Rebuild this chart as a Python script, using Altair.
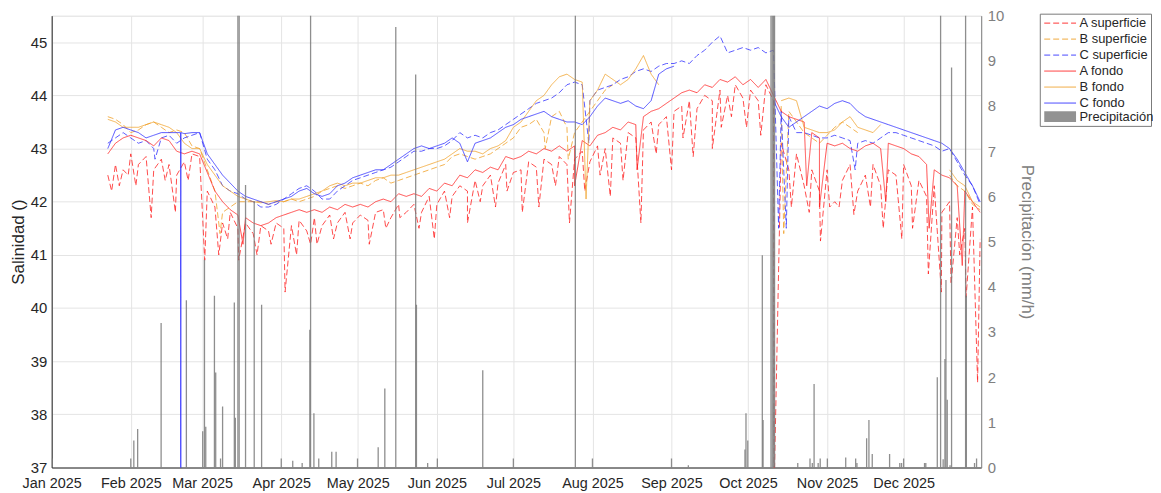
import altair as alt
import pandas as pd

# sampling days (day 0 = 1 Jan 2025)
DAYS = [22, 25, 28, 31, 34, 37, 40, 43, 46, 49, 52, 55, 58, 61, 64, 67, 70, 73, 76, 79,
        82, 85, 88, 91, 94, 97, 100, 103, 106, 109, 112, 115, 118, 121, 124, 127, 130, 133, 136, 139,
        142, 145, 148, 151, 154, 157, 160, 163, 166, 169, 172, 175, 178, 181, 184, 187, 190, 193, 196, 199,
        202, 205, 208, 211, 214, 217, 220, 223, 226, 229, 232, 235, 238, 241, 244, 247, 250, 253, 256, 259,
        262, 265, 268, 271, 274, 277, 280, 283, 286, 289, 292, 295, 298, 301, 304, 307, 310, 313, 316, 319,
        322, 325, 328, 331, 334, 337, 340, 343, 346, 349, 352, 355, 358, 361, 364]

A_SUP = [42.5, 42.7, 42.6, 42.9, 42.7, 42.85, 42.6, 42.8, 42.7, 42.5, 42.75, 42.9, 42.85, 42.2, 41.9, 41.6, 41.8, 41.5, 41.6, 41.4,
         41.55, 41.45, 41.6, 41.5, 41.55, 41.65, 41.45, 41.7, 41.55, 41.75, 41.6, 41.8, 41.6, 41.75, 41.65, 41.8, 41.85, 41.7, 41.95, 41.8,
         41.95, 41.8, 42.1, 41.95, 42.2, 42.1, 42.3, 42.2, 42.4, 42.3, 42.5, 42.35, 42.7, 42.55, 42.6, 42.75, 42.65, 42.8, 42.7, 42.85,
         42.7, 42.8, 42.95, 42.75, 43.05, 43.0, 43.2, 43.1, 43.3, 43.2, 43.35, 43.5, 43.45, 43.6, 43.7, 43.8, 43.9, 43.75, 44.0, 43.9,
         44.1, 44.0, 44.2, 43.95, 44.1, 43.9, 44.2, 43.9, 43.1, 42.6, 42.9, 42.3, 42.6, 42.2, 42.6, 42.0, 42.4, 42.7, 42.2, 42.5,
         42.7, 42.3, 42.6, 42.5, 42.7, 42.3, 42.4, 42.1, 42.3, 41.8, 42.0, 41.7, 41.5, 41.9, 41.3]
A_SUP_DIP_DAYS = [23.5, 26.5, 30, 33, 39, 44.5, 48.5, 53.5, 60, 65.5, 69, 73.3, 80.5, 86, 91.5, 96, 101.5, 104, 110.5, 117,
                  124.5, 131, 136.5, 144, 150, 156, 163, 168, 174, 178.5, 184.5, 191, 197.5, 203, 209, 215, 219, 224, 231,
                  237, 243, 247.5, 251.5, 259, 262.5, 266.5, 272.4, 278, 283.2, 290, 297, 301.4, 305, 308.7, 314.5, 321,
                  326, 333.3, 337.5, 343.7, 348.8, 352.6, 356, 358.5, 363]
A_SUP_DIP_VALS = [42.2, 42.3, 42.5, 42.3, 41.7, 42.4, 41.8, 42.4, 40.9, 41.0, 41.3, 40.9, 41.0, 41.2, 40.3, 41.0, 41.2, 41.2, 41.3, 41.3,
                  41.2, 41.5, 41.7, 41.5, 41.3, 41.7, 41.6, 42.0, 41.9, 42.2, 41.8, 41.9, 42.3, 41.6, 42.2, 42.5, 42.1, 42.4, 41.6,
                  42.9, 42.6, 43.2, 42.85, 43.0, 43.4, 43.6, 43.4, 43.25, 36.5, 41.9, 41.8, 41.26, 41.9, 41.9, 41.76, 41.9,
                  41.5, 41.3, 41.5, 40.64, 40.3, 40.45, 41.0, 40.2, 38.6]

B_SUP = [43.6, 43.55, 43.45, 43.3, 43.35, 43.45, 43.5, 43.4, 43.3, 43.35, 43.3, 43.05, 43.0, 42.6, 42.2, 41.8, 41.9, 42.0, 42.0, 42.0,
         42.0, 41.95, 42.0, 42.0, 42.05, 42.0, 42.05, 42.1, 42.2, 42.25, 42.3, 42.25, 42.3, 42.35, 42.3, 42.4, 42.45, 42.35, 42.4, 42.45,
         42.5, 42.55, 42.6, 42.65, 42.7, 42.85, 42.9, 42.85, 42.8, 42.85, 42.9, 43.0, 43.1, 43.2, 43.4, 43.45, 43.55, 43.3, 43.6, 43.7,
         43.4, 43.3, 43.5, 43.7, 43.9, 44.1, 44.2, None, None, None, None, None, None, None, None, None, None, None, None, None,
         None, None, None, None, None, None, None, None, 43.8, 43.7, 43.5, 43.3, 43.2, 43.1, 43.25, 43.4, 43.5, 43.4, 43.3, None,
         None, None, None, None, None, None, None, None, None, None, 42.5, 42.3, 42.2, 41.95, 41.85]
B_SUP_DIP_DAYS = [66, 193.5, 202.5, 287]
B_SUP_DIP_VALS = [41.4, 43.0, 42.8, 41.4]

C_SUP = [43.1, 43.2, 43.3, 43.2, 43.1, 43.15, 43.0, 43.2, 43.25, 43.1, 43.2, 43.25, 43.3, 42.8, 42.6, 42.3, 42.2, 42.15, 42.05, 42.0,
         41.9, 41.9, 41.95, 42.05, 42.15, 42.25, 42.3, 42.2, 42.05, 42.05, 42.2, 42.3, 42.4, 42.45, 42.5, 42.55, 42.6, 42.65, 42.75, 42.85,
         42.95, 42.95, 43.0, 43.0, 43.05, 43.15, 43.3, 43.2, 43.25, 43.2, 43.3, 43.35, 43.45, 43.55, 43.65, 43.75, 43.85, 43.9, 43.95, 44.05,
         44.2, 44.25, 44.2, 43.9, 44.1, 44.15, 44.2, 44.3, 44.35, 44.45, 44.5, 44.45, 44.55, 44.6, 44.6, 44.65, 44.6, 44.75, 44.85, 45.0,
         45.12, 44.8, 44.85, 44.9, 44.85, 44.9, 44.8, 44.85, 43.7, 43.6, 43.3, 43.3, 43.25, 43.2, 43.2, 43.25, 43.2, 43.15, 43.1, 43.15,
         43.1, 43.2, 43.3, 43.3, 43.25, 43.2, 43.15, 43.1, 43.05, 42.95, 43.0, 42.75, 42.5, 42.3, 41.95]
C_SUP_DIP_DAYS = [40.5, 210.6, 285, 288, 315]
C_SUP_DIP_VALS = [42.8, 43.1, 41.5, 41.5, 42.6]

A_FONDO = [42.9, 43.1, 43.2, 43.25, 43.2, 43.15, 43.05, 43.2, 43.15, 42.95, 42.9, 42.95, 42.9, 42.55, 42.2, 42.0, 41.85, 41.75, 41.7, 41.6,
           41.55, 41.6, 41.7, 41.75, 41.8, 41.85, 41.8, 41.85, 41.8, 41.9, 41.85, 41.95, 41.9, 41.95, 41.9, 42.0, 42.05, 42.0, 42.15, 42.1,
           42.15, 42.1, 42.25, 42.2, 42.35, 42.3, 42.5, 42.45, 42.6, 42.55, 42.65, 42.6, 42.85, 42.8, 42.85, 42.95, 42.9, 43.0, 42.95, 43.05,
           42.95, 43.05, 43.15, 43.05, 43.25, 43.3, 43.4, 43.35, 43.5, 43.45, 43.6, 43.7, 43.75, 43.85, 43.95, 44.05, 44.1, 44.05, 44.2, 44.15,
           44.3, 44.25, 44.35, 44.2, 44.3, 44.15, 44.3, 44.0, 43.7, 43.6, 43.55, 43.5, 43.3, 43.2, 43.1, 43.05, 43.1, 43.0, 42.95, 43.05,
           43.1, 43.0, 43.1, 43.05, 43.0, 42.9, 42.85, 42.7, 42.6, 42.5, 42.45, 42.3, 42.2, 42.0, 41.8]
A_FONDO_DIP_DAYS = [75, 205, 229.5, 296, 301, 327, 344, 357]
A_FONDO_DIP_VALS = [41.2, 42.3, 42.6, 42.3, 41.9, 42.0, 41.5, 40.8]

B_FONDO = [43.55, 43.5, 43.4, 43.4, 43.4, 43.45, 43.5, 43.45, 43.4, 43.3, 43.1, 43.0, 43.0, 42.7, 42.5, 42.3, 42.2, 42.1, 42.05, 42.0,
           41.98, 42.0, 42.02, 42.0, 42.05, 42.05, 42.1, 42.15, 42.2, 42.3, 42.35, 42.3, 42.35, 42.35, 42.4, 42.45, 42.45, 42.5, 42.5, 42.55,
           42.6, 42.65, 42.7, 42.75, 42.8, 42.9, 43.0, 42.95, 42.95, 42.9, 43.0, 43.05, 43.15, 43.4, 43.5, 43.7, 43.9, 44.0, 44.2, 44.35,
           44.4, 44.3, 44.25, 43.9, 44.1, 44.4, 44.3, 44.2, 44.3, 44.5, 44.75, 44.4, 44.2, None, None, None, None, None, None, None,
           None, None, None, None, None, None, None, None, 43.9, 43.95, 43.9, 43.4, 43.35, 43.3, 43.3, 43.35, 43.5, 43.6, 43.4, 43.35,
           43.3, 43.45, None, None, None, None, None, None, None, None, 42.6, 42.4, 42.3, 42.0, 41.9]
B_FONDO_DIP_DAYS = [209.5]
B_FONDO_DIP_VALS = [42.05]

C_FONDO = [43.0, 43.35, 43.4, 43.35, 43.3, 43.2, 43.25, 43.3, 43.3, 43.3, 43.28, 43.3, 43.3, 42.9, 42.7, 42.5, 42.35, 42.2, 42.1, 42.05,
           42.0, 41.95, 42.0, 42.05, 42.1, 42.2, 42.25, 42.15, 42.1, 42.15, 42.3, 42.35, 42.45, 42.5, 42.55, 42.6, 42.6, 42.7, 42.8, 42.9,
           43.0, 43.05, 43.0, 43.05, 43.1, 43.2, 43.1, 42.75, 43.1, 43.15, 43.2, 43.3, 43.4, 43.45, 43.55, 43.6, 43.65, 43.7, 43.6, 43.55,
           43.5, 43.5, 43.45, 43.6, 43.8, 43.95, 43.9, 43.85, 43.9, 43.8, 43.75, 43.9, 44.4, 44.5, 44.55, None, None, None, None, None,
           None, None, None, None, None, None, None, 43.9, 43.6, 43.4, 43.5, 43.6, 43.7, 43.8, 43.75, 43.85, 43.9, 43.85, 43.7, 43.6,
           43.55, 43.5, 43.45, 43.4, 43.35, 43.3, 43.25, 43.2, 43.15, 43.1, 43.0, 42.8, 42.55, 42.3, 42.0]
C_FONDO_DIP_DAYS = [50.5, 50.6, 50.7]
C_FONDO_DIP_VALS = [43.3, 36.8, 43.3]

# precipitation events (day, mm/h)
PRECIP_DAYS = [0.2, 31.0, 32.2, 33.7, 42.9, 52.8, 59.2, 59.9, 60.4, 63.8, 64.3, 66.2, 67.0, 71.6, 72.0, 73.0, 73.5,
               76.0, 79.4, 82.3, 90.0, 94.5, 98.2, 101.2, 101.5, 102.8, 104.7, 109.8, 111.5, 119.9, 128.0, 130.6,
               134.9, 142.7, 143.0, 147.4, 151.2, 169.0, 181.0, 205.3, 212.0, 243.0, 249.6, 271.8, 272.2, 272.9,
               278.6, 278.9, 282.0, 282.5, 283.0, 283.4, 292.5, 297.3, 298.2, 298.9, 300.5, 301.3, 304.1, 311.3,
               315.2, 315.7, 319.5, 320.4, 321.7, 328.5, 332.5, 333.2, 334.0, 342.2, 342.7, 347.2, 348.5, 349.5,
               350.2, 350.6, 351.1, 352.2, 352.8, 358.3, 358.6, 361.8, 362.6]
PRECIP_VALS = [0.2, 0.2, 0.6, 0.85, 3.2, 3.7, 0.8, 4.6, 0.9, 3.8, 2.1, 0.2, 1.35, 3.65, 1.1, 10.5, 10.5,
               6.25, 5.9, 3.6, 0.2, 0.15, 0.1, 3.05, 10.5, 1.2, 0.2, 0.35, 0.35, 0.2, 0.45, 1.75,
               9.75, 8.7, 3.6, 0.1, 0.2, 2.15, 0.2, 10.5, 0.2, 0.2, 0.05, 0.4, 1.2, 0.6,
               4.7, 1.05, 10.5, 10.5, 10.5, 10.5, 0.1, 0.2, 0.1, 1.85, 0.1, 0.2, 0.2, 0.22,
               0.2, 0.1, 0.65, 1.05, 0.3, 0.3, 0.1, 0.1, 0.2, 0.1, 0.1, 2.0, 10.5, 0.18,
               2.4, 4.15, 1.5, 0.05, 8.85, 10.5, 3.8, 0.1, 0.2]

ORDER = ["A superficie", "B superficie", "C superficie", "A fondo", "B fondo", "C fondo"]
COLORS = ["#ff2020", "#f0a028", "#3535ff", "#ff2020", "#f0a028", "#2a2aff"]
DASHES = [[6, 3], [6, 3], [6, 3], [1, 0], [1, 0], [1, 0]]
PRECIP_NAME = ["Precipitación"]
PRECIP_COLOR = ["#7a7a7a"]

SERIES = [
    ("A superficie", A_SUP, A_SUP_DIP_DAYS, A_SUP_DIP_VALS),
    ("B superficie", B_SUP, B_SUP_DIP_DAYS, B_SUP_DIP_VALS),
    ("C superficie", C_SUP, C_SUP_DIP_DAYS, C_SUP_DIP_VALS),
    ("A fondo", A_FONDO, A_FONDO_DIP_DAYS, A_FONDO_DIP_VALS),
    ("B fondo", B_FONDO, B_FONDO_DIP_DAYS, B_FONDO_DIP_VALS),
    ("C fondo", C_FONDO, C_FONDO_DIP_DAYS, C_FONDO_DIP_VALS),
]

BASE = pd.Timestamp("2025-01-01")


def to_date(d):
    return BASE + pd.Timedelta(hours=d * 24)


rows = []
for name, vals, xd, xv in SERIES:
    assert len(vals) == len(DAYS), (name, len(vals))
    assert len(xd) == len(xv), name
    pts = list(zip(DAYS, vals)) + list(zip(xd, xv))
    pts.sort(key=lambda p: p[0])
    seg = 0
    for d, v in pts:
        if v is None:
            seg += 1
            continue
        rows.append({"date": to_date(d), "sal": v, "series": name, "seg": f"{name}-{seg}"})
lines_df = pd.DataFrame(rows)

assert len(PRECIP_DAYS) == len(PRECIP_VALS)
precip_df = pd.DataFrame({"date": [to_date(d) for d in PRECIP_DAYS], "p": PRECIP_VALS,
                          "kind": PRECIP_NAME * len(PRECIP_DAYS)})

FONT = "Liberation Sans"
x_dom = [alt.DateTime(year=2025, month=1, date=1), alt.DateTime(year=2025, month=12, date=31, hours=10)]
month_ticks = [alt.DateTime(year=2025, month=m, date=1) for m in range(1, 13)]

x_enc = alt.X("date:T", scale=alt.Scale(domain=x_dom),
              axis=alt.Axis(values=month_ticks, format="%b %Y", title=None, labelFontSize=14.5,
                            labelColor="#262626", labelFont=FONT, grid=True, gridColor="#e4e4e4",
                            domainColor="#262626", ticks=False, labelPadding=9, labelFlush=False,
                            labelOverlap=False))

LEG_X = 995
LEG_Y = -2
LEG_PAD = 3
LEG_FONT = 13
ROW_PAD = 2.1
ROW_STEP = 15.7

legend_lines = alt.Legend(title=" ", titleOrient="bottom", titleFontSize=10, titlePadding=ROW_PAD,
                          orient="none", legendX=LEG_X, legendY=LEG_Y,
                          symbolType="M-3.2,0H3.2", symbolSize=100, symbolStrokeWidth=1,
                          labelFont=FONT, labelFontSize=LEG_FONT, labelColor="#262626",
                          strokeColor="#7a7a7a", fillColor="white", padding=LEG_PAD,
                          rowPadding=ROW_PAD, labelOffset=13, symbolOffset=11)

legend_precip = alt.Legend(title=None, orient="none", legendX=LEG_X, legendY=LEG_Y + 6 * ROW_STEP,
                           symbolType="M-3.2,-1.1H3.2V1.1H-3.2Z", symbolSize=100,
                           symbolFillColor="#7f7f7f", symbolStrokeWidth=0,
                           labelFont=FONT, labelFontSize=LEG_FONT, labelColor="#262626",
                           padding=LEG_PAD, rowPadding=ROW_PAD, labelOffset=13, symbolOffset=11)

lines = alt.Chart(lines_df).mark_line(clip=True, interpolate="linear", opacity=0.9, strokeWidth=0.9).encode(
    x=x_enc,
    y=alt.Y("sal:Q", scale=alt.Scale(domain=[37, 45.5], nice=False, zero=False),
            axis=alt.Axis(orient="left", values=[37, 38, 39, 40, 41, 42, 43, 44, 45], title="Salinidad ()",
                          titleFontSize=17, titleFont=FONT, titleFontWeight="normal", titleColor="#262626",
                          labelFontSize=15, labelFont=FONT, labelColor="#262626", grid=True,
                          gridColor="#e4e4e4", domainColor="#262626", ticks=False, labelPadding=5,
                          titlePadding=3)),
    color=alt.Color("series:N", scale=alt.Scale(domain=ORDER, range=COLORS), legend=legend_lines),
    strokeDash=alt.StrokeDash("series:N", scale=alt.Scale(domain=ORDER, range=DASHES), legend=legend_lines),
    detail="seg:N",
)

precip = alt.Chart(precip_df).mark_rule(clip=True, strokeWidth=1.3, opacity=0.85).encode(
    x=alt.X("date:T", scale=alt.Scale(domain=x_dom)),
    y=alt.Y("p:Q", scale=alt.Scale(domain=[0, 10], nice=False),
            axis=alt.Axis(orient="right", values=[0, 1, 2, 3, 4, 5, 6, 7, 8, 9, 10],
                          title="Precipitación (mm/h)", titleFontSize=17, titleFont=FONT,
                          titleFontWeight="normal", titleColor="#808080", labelFontSize=15, labelFont=FONT,
                          labelColor="#808080", grid=False, domainColor="#808080", ticks=False,
                          labelPadding=6, titlePadding=14)),
    y2=alt.datum(0),
    color=alt.Color("kind:N", scale=alt.Scale(domain=PRECIP_NAME, range=PRECIP_COLOR), legend=legend_precip),
)

chart = alt.layer(lines, precip).resolve_scale(
    y="independent", color="independent", strokeDash="independent"
).resolve_legend(color="independent", strokeDash="independent").properties(
    width=936, height=455,
    autosize=alt.AutoSizeParams(type="none"),
    padding={"left": 44, "top": 6, "right": 173, "bottom": 30},
).configure_view(stroke=None).configure(font=FONT, background="white")

chart.save("out.html", embed_options={"renderer": "svg", "actions": False})
